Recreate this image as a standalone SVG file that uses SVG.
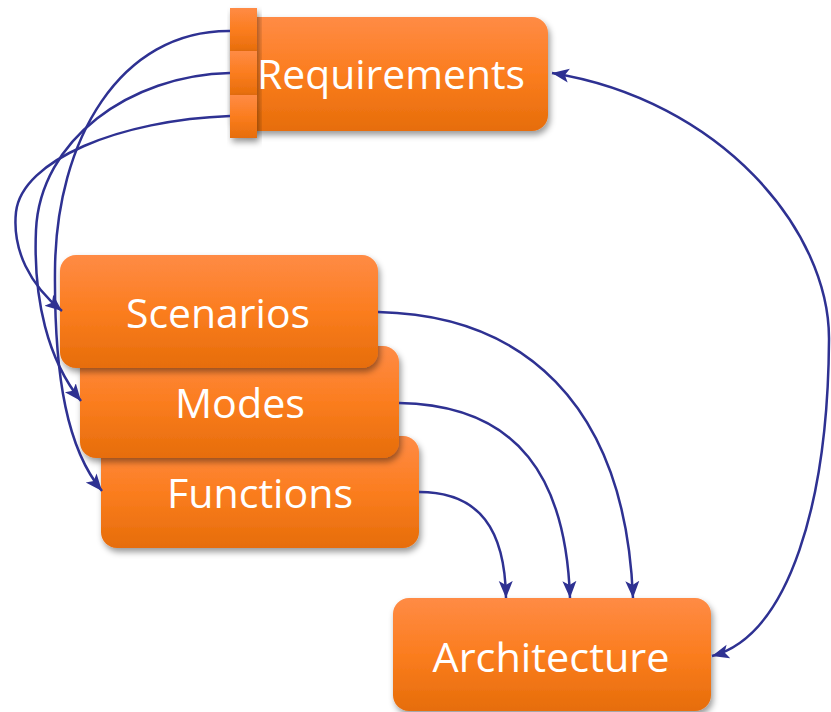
<svg xmlns="http://www.w3.org/2000/svg" width="831" height="712" viewBox="0 0 831 712">
  <defs>
    <linearGradient id="orange" x1="0" y1="0" x2="0" y2="1">
      <stop offset="0" stop-color="#ff8b45"/>
      <stop offset="0.5" stop-color="#fb7d1f"/>
      <stop offset="1" stop-color="#e66d0a"/>
    </linearGradient>
    <filter id="shadow" x="-10%" y="-10%" width="125%" height="135%">
      <feDropShadow dx="2" dy="4" stdDeviation="3" flood-color="#000" flood-opacity="0.4"/>
    </filter>
    <marker id="arrow" markerWidth="18" markerHeight="16" refX="17" refY="8" orient="auto-start-reverse" markerUnits="userSpaceOnUse">
      <path d="M0,1 L17,8 L0,15 L4,8 Z" fill="#2e3192"/>
    </marker>
  </defs>
  <style>
    .box { fill: url(#orange); filter: url(#shadow); }
    .label { font-family: "Open Sans", "Noto Sans", "Liberation Sans", sans-serif; font-size: 40px; fill: #ffffff; text-anchor: middle; }
    .conn { fill: none; stroke: #2e3192; stroke-width: 2.5; }
  </style>

  <rect width="831" height="712" fill="#ffffff"/>

  <!-- Requirements: body with three tabs on its left side -->
  <g id="requirements">
    <rect class="box" x="230" y="17" width="318" height="114" rx="16"/>
    <rect class="box" x="230" y="8" width="27" height="44"/>
    <rect class="box" x="230" y="51" width="27" height="44"/>
    <rect class="box" x="230" y="95" width="27" height="43"/>
    <text class="label" x="391" y="89" textLength="268" lengthAdjust="spacingAndGlyphs">Requirements</text>
  </g>

  <!-- stacked boxes, back to front -->
  <g id="functions">
    <rect class="box" x="101" y="436" width="318" height="112" rx="16"/>
    <text class="label" x="260" y="508" textLength="186" lengthAdjust="spacingAndGlyphs">Functions</text>
  </g>
  <g id="modes">
    <rect class="box" x="80" y="346" width="319" height="112" rx="16"/>
    <text class="label" x="240" y="418" textLength="130" lengthAdjust="spacingAndGlyphs">Modes</text>
  </g>
  <g id="scenarios">
    <rect class="box" x="60" y="255" width="318" height="113" rx="16"/>
    <text class="label" x="218" y="328" textLength="184" lengthAdjust="spacingAndGlyphs">Scenarios</text>
  </g>

  <g id="architecture">
    <rect class="box" x="393" y="598" width="318" height="113" rx="16"/>
    <text class="label" x="551" y="672" textLength="237" lengthAdjust="spacingAndGlyphs">Architecture</text>
  </g>

  <g id="connectors">
    <!-- requirement tabs to the stacked boxes -->
    <path class="conn" d="M230,116 C120,120 22,160 16,212 C12,250 30,285 62,311" marker-end="url(#arrow)"/>
    <path class="conn" d="M230,73 C130,75 40,140 36,230 C33,300 48,360 81,401" marker-end="url(#arrow)"/>
    <path class="conn" d="M230,31 C120,30 56,140 55,270 C54,380 68,450 102,491" marker-end="url(#arrow)"/>
    <!-- stacked boxes to architecture -->
    <path class="conn" d="M378,312 C520,315 625,400 633,598" marker-end="url(#arrow)"/>
    <path class="conn" d="M399,403 C520,405 566,480 570,598" marker-end="url(#arrow)"/>
    <path class="conn" d="M419,492 C480,492 505,530 506,598" marker-end="url(#arrow)"/>
    <!-- requirements and architecture, both ways -->
    <path class="conn" d="M552,73 C720,100 830,230 829,340 C828,500 790,635 712,656" marker-start="url(#arrow)" marker-end="url(#arrow)"/>
  </g>
</svg>
